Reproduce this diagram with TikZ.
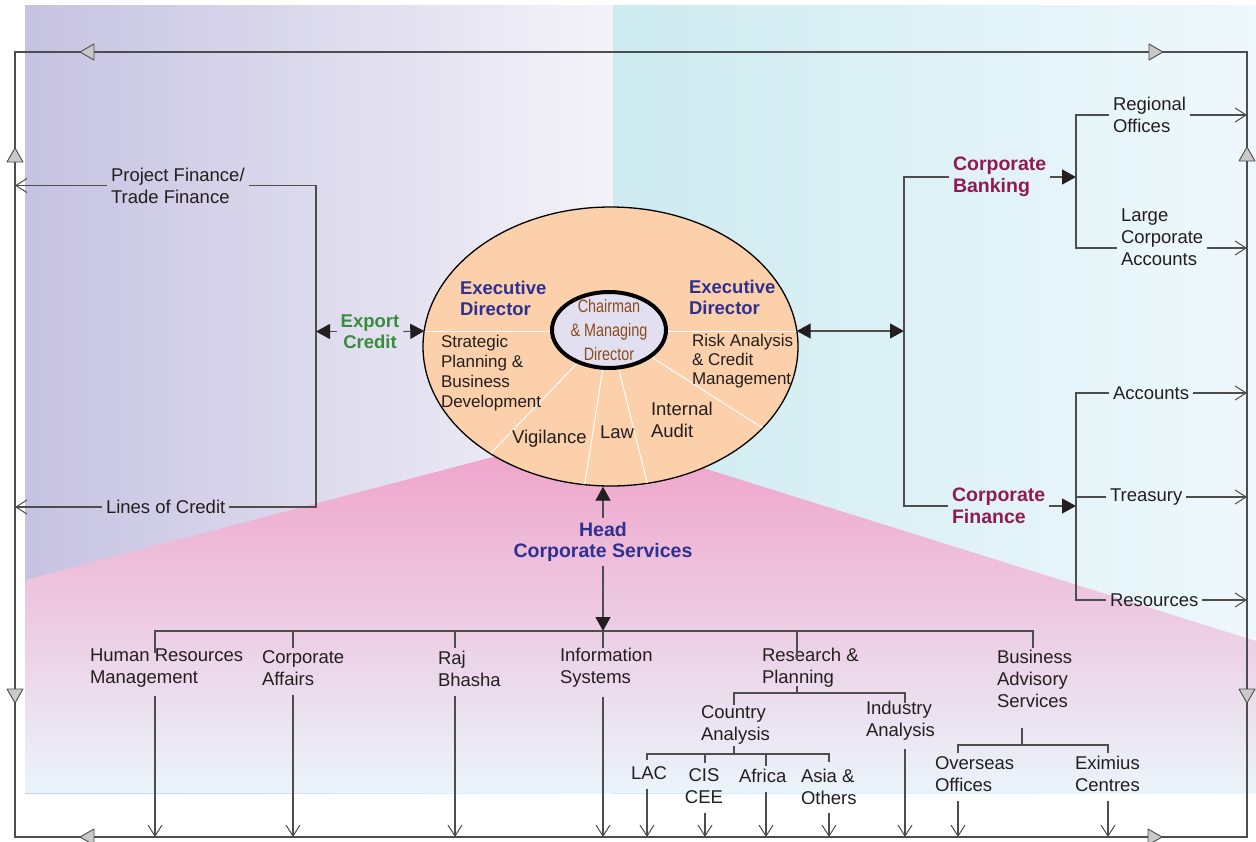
\documentclass[tikz,border=0pt]{standalone}
\usepackage{fontspec}
\setmainfont{Liberation Sans}
\newfontfamily\mycondfont[FakeStretch=0.8]{Liberation Sans}
\usetikzlibrary{arrows.meta,calc,shapes.geometric}
\definecolor{lc}{HTML}{4D4D4D}
\definecolor{ablk}{HTML}{231F20}
\definecolor{txt}{HTML}{231F20}
\definecolor{edblue}{HTML}{2E3192}
\definecolor{cbmaroon}{HTML}{8E1B53}
\definecolor{ecgreen}{HTML}{3A8C3F}
\definecolor{brownt}{HTML}{8B4A1B}
\definecolor{peach}{HTML}{FCD0AA}
\definecolor{lav}{HTML}{E2E0F0}
\definecolor{tri}{HTML}{C9C9C9}
\definecolor{lavL}{HTML}{C6C2E1}
\definecolor{lavR}{HTML}{F4F3F9}
\definecolor{cyL}{HTML}{CDEBF0}
\definecolor{cyR}{HTML}{EFF8FC}
\definecolor{pkT}{HTML}{F0A0C8}
\definecolor{pkM}{HTML}{EFC4DE}
\definecolor{pkB}{HTML}{EAF4FB}
\newcommand\myfA{\fontsize{18.5}{22}\selectfont}
\newcommand\myfB{\fontsize{19.5}{21.5}\selectfont\bfseries}
\newcommand\myfC{\fontsize{17}{20}\selectfont}
\newcommand\myfD{\fontsize{17}{19}\selectfont}
\begin{document}
\begin{tikzpicture}[x=1pt,y=-1pt,
  ln/.style={draw=lc, line width=1.1pt},
  openarr/.style={ln, -{Straight Barb[length=11pt,width=14pt,line width=1pt]}},
  downarr/.style={openarr, shorten <=5pt},
  solidarr/.style={ln, -{Triangle[length=14pt,width=15pt,color=ablk]}},
  bisolid/.style={ln, {Triangle[length=14pt,width=15pt,color=ablk]}-{Triangle[length=14pt,width=15pt,color=ablk]}},
  lbl/.style={inner sep=0pt, outer sep=4pt, align=left, text=txt, font=\myfA, anchor=west},
  blbl/.style={inner sep=0pt, outer sep=4pt, align=left, font=\myfB, anchor=west},
  gtri/.style={fill=tri, draw=lc, line width=0.9pt, line join=round}]
\useasboundingbox (0,0) rectangle (1256,841);
\fill[white] (0,0) rectangle (1256,841);
% backgrounds
\shade[left color=lavL,right color=lavR] (25,5) rectangle (613,793);
\shade[left color=cyL,right color=cyR] (613,5) rectangle (1256,793);
\shade[top color=pkT,middle color=pkM,bottom color=pkB] (25,580) -- (588,432) -- (1256,641) -- (1256,793) -- (25,793) -- cycle;
% central ellipse
\node[ellipse, draw=black, line width=1.3pt, fill=peach, minimum width=375, minimum height=279, inner sep=0pt] (ell) at (610.5,346.5) {};
\begin{scope}
\clip (610.5,346.5) ellipse [x radius=187, y radius=139];
\draw[white, line width=1pt] (300,331) -- (900,331);
\draw[white, line width=1pt] (609,330) -- ($(609,330)!3!(492,452)$);
\draw[white, line width=1pt] (609,330) -- ($(609,330)!3!(585,482)$);
\draw[white, line width=1pt] (609,330) -- ($(609,330)!3!(647,482)$);
\draw[white, line width=1pt] (609,330) -- ($(609,330)!3!(761,427)$);
\end{scope}
\node[ellipse, draw=black, line width=4pt, fill=lav, minimum width=114, minimum height=76, inner sep=0pt] (cmd) at (609,330) {};
\node[inner sep=0pt, align=center, text=brownt, font=\mycondfont\fontsize{18}{24}\selectfont] (cmdt) at (cmd) {Chairman\\\& Managing\\Director};
\node[blbl, text=edblue, font=\fontsize{18.5}{21}\selectfont\bfseries] (edl) at (456,298) {Executive\\Director};
\node[blbl, text=edblue, font=\fontsize{18.5}{21}\selectfont\bfseries] (edr) at (685,297) {Executive\\Director};
\node[lbl, font=\myfC] (spbd) at (437,373) {Strategic\\Planning \&\\Business\\Development};
\node[lbl, font=\myfD] (racm) at (688,361) {Risk Analysis\\\& Credit\\Management};
\node[lbl] (vig) at (508,439) {Vigilance};
\node[lbl] (law) at (596,432) {Law};
\node[lbl] (ia) at (647,420) {Internal\\Audit};
% left side
\node[lbl] (pf) at (107,185.5) {Project Finance/\\Trade Finance};
\node[lbl] (loc) at (102,507) {Lines of Credit};
\node[blbl, anchor=center, align=center, text=ecgreen, font=\fontsize{18.5}{21}\selectfont\bfseries] (ec) at (370,331.5) {Export\\Credit};
% right side
\node[blbl, text=cbmaroon] (cb) at (949,177) {Corporate\\Banking};
\node[blbl, text=cbmaroon] (cf) at (948,506) {Corporate\\Finance};
\node[lbl] (ro) at (1109,115) {Regional\\Offices};
\node[lbl] (lca) at (1117,237) {Large\\Corporate\\Accounts};
\node[lbl] (acc) at (1109,393) {Accounts};
\node[lbl] (tre) at (1106,497) {Treasury};
\node[lbl] (res) at (1106,600) {Resources};
% bottom
\node[blbl, anchor=center, align=center, text=edblue] (hcs) at (603,542) {Head\\Corporate Services};
\node[lbl] (hrm) at (86,668) {Human Resources\\Management};
\node[lbl] (ca) at (258,668.5) {Corporate\\Affairs};
\node[lbl] (rb) at (434,669) {Raj\\Bhasha};
\node[lbl] (is) at (556,668) {Information\\Systems};
\node[lbl] (rp) at (758,668) {Research \&\\Planning};
\node[lbl] (bas) at (993,679) {Business\\Advisory\\Services};
\node[lbl] (cty) at (697,725) {Country\\Analysis};
\node[lbl] (ind) at (862,720.5) {Industry\\Analysis};
\node[lbl] (lac) at (627,773) {LAC};
\node[lbl, anchor=center, align=center] (cis) at (704,786.5) {CIS\\CEE};
\node[lbl] (afr) at (735,776) {Africa};
\node[lbl] (asia) at (797,786.5) {Asia \&\\Others};
\node[lbl] (oo) at (931,774) {Overseas\\Offices};
\node[lbl] (exc) at (1071,774) {Eximius\\Centres};
% frame
\coordinate (TL) at (15,52);
\coordinate (TR) at (1247,52);
\coordinate (BR) at (1247,837);
\coordinate (BL) at (15,837);
\draw[ln] (TL) -- (TR) -- (BR) -- (BL) -- cycle;
% left connectors
\coordinate (J1) at (316,185.5);
\coordinate (J2) at (316,507);
\draw[ln] (pf.east) -- (J1) -- (J2) -- (loc.east);
\draw[openarr] (pf.west) -- (pf.west -| TL);
\draw[openarr] (loc.west) -- (loc.west -| TL);
\coordinate (EW) at (424.3,331);
\coordinate (EE) at (796.7,331);
\draw[solidarr] (ec.west) -- (ec.west -| J1);
\draw[solidarr] (ec.east) -- (EW);
% right connectors
\coordinate (J3) at (904,331);
\draw[bisolid] (EE) -- (J3);
\draw[ln] (cb.west) -- (cb.west -| J3) -- (cf.west -| J3) -- (cf.west);
\coordinate (V2) at (1076,0);
\draw[solidarr] (cb.east) -- (cb.east -| V2);
\draw[solidarr] (cf.east) -- (cf.east -| V2);
\coordinate (lcaW) at ($(lca.west)+(0,11)$);
\coordinate (lcaE) at ($(lca.east)+(0,11)$);
\draw[ln] (ro.west) -- (ro.west -| V2) -- (lcaW -| V2) -- (lcaW);
\draw[openarr] (ro.east) -- (ro.east -| TR);
\draw[openarr] (lcaE) -- (lcaE -| TR);
\draw[ln] (acc.west) -- (acc.west -| V2) -- (res.west -| V2) -- (res.west);
\draw[ln] (tre.west) -- (tre.west -| V2);
\draw[openarr] (acc.east) -- (acc.east -| TR);
\draw[openarr] (tre.east) -- (tre.east -| TR);
\draw[openarr] (res.east) -- (res.east -| TR);
% bottom connectors
\coordinate (bar) at (603,631);
\draw[solidarr] (hcs.north) -- (hcs.north |- ell.south);
\draw[solidarr] (hcs.south) -- (bar);
\coordinate (tHRM) at (155,653);
\coordinate (tCA) at (293,648);
\coordinate (tRB) at (455,648);
\coordinate (tIS) at (603,648);
\coordinate (tRP) at (797,660);
\coordinate (tBAS) at (1033,648);
\draw[ln] (tHRM) -- (tHRM |- bar) -- (tBAS |- bar) -- (tBAS);
\draw[ln] (tCA) -- (tCA |- bar);
\draw[ln] (tRB) -- (tRB |- bar);
\draw[ln] (tIS) -- (bar);
\draw[ln] (tRP) -- (tRP |- bar);
\draw[downarr] (hrm.south -| tHRM) -- (tHRM |- BL);
\draw[downarr] (ca.south -| tCA) -- (tCA |- BL);
\draw[downarr] (rb.south -| tRB) -- (tRB |- BL);
\draw[downarr] (is.south -| tIS) -- (tIS |- BL);
% research & planning
\coordinate (tRP2) at (797,686);
\coordinate (bar2) at (797,693);
\coordinate (tCTY) at (734,705);
\coordinate (tIND) at (905,703);
\draw[ln] (tRP2) -- (bar2);
\draw[ln] (tCTY) -- (tCTY |- bar2) -- (tIND |- bar2) -- (tIND);
\draw[downarr] (ind.south -| tIND) -- (tIND |- BL);
\coordinate (tCTY2) at (734,746);
\coordinate (bar3) at (734,754);
\coordinate (tLAC) at (647,760);
\coordinate (tCIS) at (705,763);
\coordinate (tAFR) at (766,766);
\coordinate (tASIA) at (829,762);
\draw[ln] (tCTY2) -- (bar3);
\draw[ln] (tLAC) -- (tLAC |- bar3) -- (tASIA |- bar3) -- (tASIA);
\draw[ln] (tCIS) -- (tCIS |- bar3);
\draw[ln] (tAFR) -- (tAFR |- bar3);
\draw[downarr] (lac.south -| tLAC) -- (tLAC |- BL);
\draw[downarr] (cis.south -| tCIS) -- (tCIS |- BL);
\draw[downarr] (afr.south -| tAFR) -- (tAFR |- BL);
\draw[downarr] (asia.south -| tASIA) -- (tASIA |- BL);
% business advisory
\coordinate (tBAS2) at (1022,728);
\coordinate (bar4) at (1022,745);
\coordinate (tOO) at (958,753);
\coordinate (tEXC) at (1108,753);
\draw[ln] (tBAS2) -- (bar4);
\draw[ln] (tOO) -- (tOO |- bar4) -- (tEXC |- bar4) -- (tEXC);
\draw[downarr] (oo.south -| tOO) -- (tOO |- BL);
\draw[downarr] (exc.south -| tEXC) -- (tEXC |- BL);
% frame triangles
\draw[gtri] (80,52) -- (94,44) -- (94,60) -- cycle;
\draw[gtri] (1163,52) -- (1149,44) -- (1149,60) -- cycle;
\draw[gtri] (80,837) -- (94,829) -- (94,845) -- cycle;
\draw[gtri] (1162,837) -- (1148,829) -- (1148,845) -- cycle;
\draw[gtri] (15,148) -- (7,162) -- (23,162) -- cycle;
\draw[gtri] (15,703) -- (7,689) -- (23,689) -- cycle;
\draw[gtri] (1247,147) -- (1239,161) -- (1255,161) -- cycle;
\draw[gtri] (1247,703) -- (1239,689) -- (1255,689) -- cycle;
\end{tikzpicture}
\end{document}
